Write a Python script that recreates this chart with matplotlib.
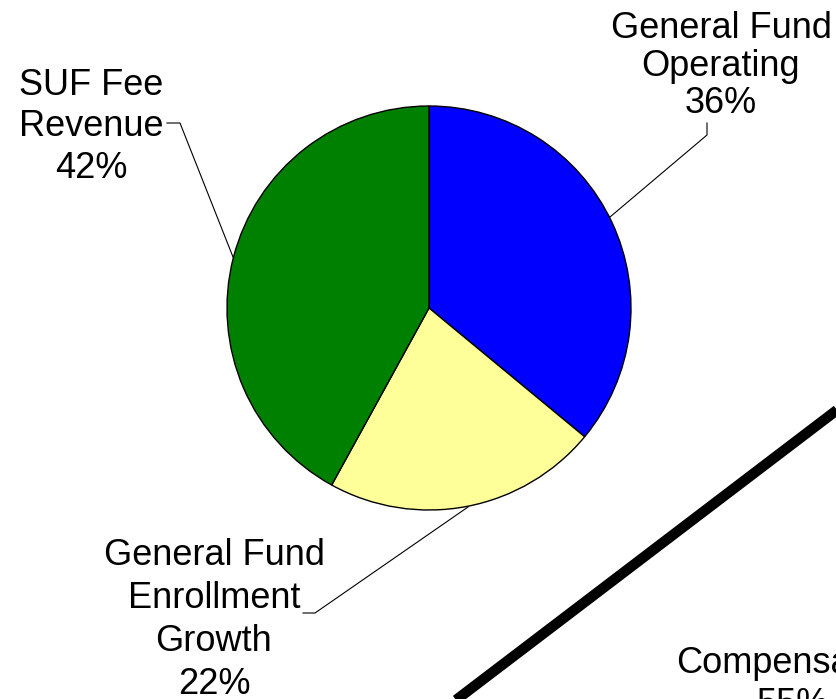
import matplotlib
matplotlib.use("Agg")
import matplotlib.pyplot as plt

categories = ["General Fund\nOperating", "General Fund\nEnrollment\nGrowth", "SUF Fee\nRevenue"]
values = [36, 22, 42]
colors = ["#0000FF", "#FFFF99", "#008000"]
other_label = "Compensation"
other_value = 55

W, H = 837, 699
fig = plt.figure(figsize=(W / 100, H / 100), dpi=100)
ax = fig.add_axes([0, 0, 1, 1])

def Y(py):
    return H - py

ax.pie(values, center=(429, Y(308)), radius=202, startangle=90, counterclock=False,
       colors=colors, wedgeprops=dict(edgecolor="black", linewidth=1.0))
ax.set_xlim(0, W)
ax.set_ylim(0, H)
ax.set_aspect("auto")
ax.axis("off")

font = dict(family=["Liberation Sans", "DejaVu Sans"], fontsize=26, color="black")

# labels
ax.text(721, Y(66), f"{categories[0]}\n{values[0]}%", ha="center", va="center",
        linespacing=1.08, **font)
ax.text(91, Y(127), f"{categories[2]}\n{values[2]}%", ha="center", va="center",
        linespacing=1.25, **font)
ax.text(214, Y(620), f"{categories[1]}\n{values[1]}%", ha="center", va="center",
        linespacing=1.3, **font)
ax.text(793, Y(684), f"{other_label}\n{other_value}%", ha="center", va="center",
        linespacing=1.2, **font)

# leader lines
lw = 0.8
ax.plot([610, 707, 707], [Y(217), Y(135), Y(123)], color="black", lw=lw)
ax.plot([167, 180, 233], [Y(123), Y(123), Y(257)], color="black", lw=lw)
ax.plot([303, 315, 468], [Y(613), Y(613), Y(507)], color="black", lw=lw)

# thick line
x0, y0, x1, y1 = 460, 697, 837, 410
s = (x1 - x0) / (y1 - y0)
ax.plot([x0 + (720 - y0) * s, x1 + (380 - y1) * s], [Y(720), Y(380)], color="black",
        lw=7.5, solid_capstyle="butt")

fig.savefig("out.png", dpi=100)
